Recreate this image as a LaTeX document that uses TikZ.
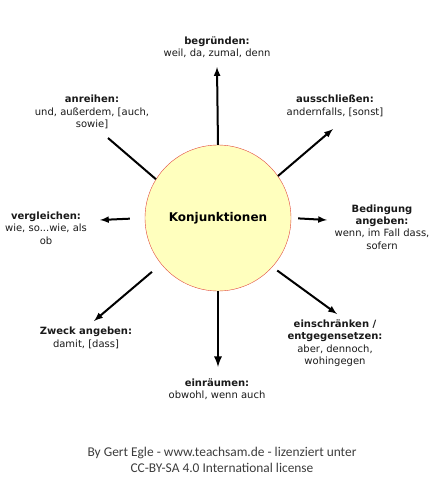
\documentclass[tikz,border=0pt]{standalone}
\usepackage{fontspec}
\setmainfont{DejaVu Sans}
\newfontfamily\footfont{Carlito}
\definecolor{hubfill}{RGB}{255,255,190}
\definecolor{hubline}{RGB}{225,70,60}
\definecolor{labeltext}{RGB}{25,25,25}
\definecolor{foottext}{RGB}{60,60,60}

\begin{document}
\begin{tikzpicture}[x=1pt,y=-1pt,
		lbl/.style={align=center,inner sep=0pt,text=labeltext,font=\fontsize{10}{12.4}\selectfont},
		arr/.style={line width=2pt,-latex},
		spoke/.style={line width=2pt}]
	\useasboundingbox (0,0) rectangle (439,480);

	% the hub
	\node[circle,draw=hubline,fill=hubfill,minimum size=146pt,inner sep=0pt,
		font=\bfseries\fontsize{12}{14}\selectfont] (hub) at (218,218) {Konjunktionen};

	% the labels round it
	\node[lbl] (begruenden) at (217,47) {\textbf{begründen:}\\weil, da, zumal, denn};
	\node[lbl] (anreihen) at (92,112) {\textbf{anreihen:}\\und, außerdem, [auch,\\sowie]};
	\node[lbl] (ausschliessen) at (335,106) {\textbf{ausschließen:}\\andernfalls, [sonst]};
	\node[lbl] (vergleichen) at (46,228) {\textbf{vergleichen:}\\wie, so...wie, als\\ob};
	\node[lbl] (bedingung) at (382,227) {\textbf{Bedingung}\\\textbf{angeben:}\\wenn, im Fall dass,\\sofern};
	\node[lbl] (zweck) at (86,338) {\textbf{Zweck angeben:}\\damit, [dass]};
	\node[lbl] (einschraenken) at (335,343) {\textbf{einschränken /}\\\textbf{entgegensetzen:}\\aber, dennoch,\\wohingegen};
	\node[lbl] (einraeumen) at (217,389) {\textbf{einräumen:}\\obwohl, wenn auch};

	% free ends of the spokes
	\coordinate (endUp) at (217,67);
	\coordinate (endDown) at (218,367);
	\coordinate (endLeft) at (100,220);
	\coordinate (endRight) at (327,220);
	\coordinate (endUL) at (108,138);
	\coordinate (endUR) at (333,129);
	\coordinate (endLL) at (94,321);
	\coordinate (endLR) at (337,314);

	\draw[arr] (hub.north) -- (endUp);
	\draw[arr,line width=2.6pt] (hub.south) -- (endDown);
	\draw[arr,shorten <=15pt] (hub.180) -- (endLeft);
	\draw[arr,shorten <=7pt] (hub.0) -- (endRight);
	\draw[spoke] (hub.148) -- (endUL);
	\draw[arr] (hub.35) -- (endUR);
	\draw[arr,shorten <=12pt] (hub.219) -- (endLL);
	\draw[arr,shorten <=6pt] (hub.318) -- (endLR);

	% credit line
	\node[align=center,inner sep=0pt,text=foottext,font=\footfont\fontsize{13.4}{15.5}\selectfont] (credit) at (222,460)
		{By Gert Egle - www.teachsam.de - lizenziert unter\\CC-BY-SA 4.0 International license};
\end{tikzpicture}
\end{document}
